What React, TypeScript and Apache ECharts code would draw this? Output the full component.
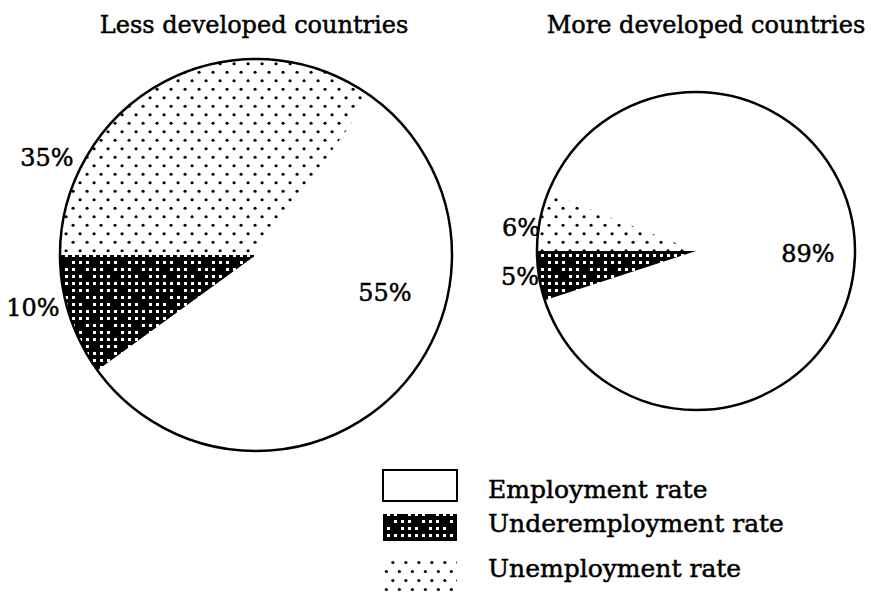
import React, { useEffect, useRef } from "react";
import * as echarts from "echarts";

// ---- data ----
const categories = ["Unemployment rate", "Employment rate", "Underemployment rate"];
const lessDeveloped = [35, 55, 10];
const moreDeveloped = [6, 89, 5];
const pieTitles = ["Less developed countries", "More developed countries"];
const legendItems = ["Employment rate", "Underemployment rate", "Unemployment rate"];

const FONT = "DejaVu Serif";

function makeDots(w: number, h: number): HTMLCanvasElement {
  const c = document.createElement("canvas");
  c.width = w;
  c.height = h;
  const ctx = c.getContext("2d")!;
  ctx.fillStyle = "#fff";
  ctx.fillRect(0, 0, w, h);
  ctx.fillStyle = "#000";
  const pts = [
    [w * 0.22, h * 0.25],
    [w * 0.72, h * 0.75],
  ];
  for (const [x, y] of pts) {
    ctx.beginPath();
    ctx.arc(x, y, 1.6, 0, Math.PI * 2);
    ctx.fill();
  }
  return c;
}

function makeHatch(): HTMLCanvasElement {
  const cell = 7;
  const mask = [
    "1111",
    "1011",
    "1110",
    "0111",
  ];
  const n = mask.length;
  const c = document.createElement("canvas");
  c.width = cell * n;
  c.height = cell * n;
  const ctx = c.getContext("2d")!;
  ctx.fillStyle = "#000";
  ctx.fillRect(0, 0, c.width, c.height);
  ctx.fillStyle = "#fff";
  for (let j = 0; j < n; j++) {
    for (let i = 0; i < n; i++) {
      if (mask[j][i] === "1") ctx.fillRect(i * cell + 2, j * cell + 2, 3, 3);
    }
  }
  return c;
}

export default function App() {
  const ref = useRef<HTMLDivElement>(null);

  useEffect(() => {
    if (!ref.current) return;
    const chart = echarts.init(ref.current, undefined, { renderer: "svg" });

    const dots = makeDots(14, 17);
    const hatch = makeHatch();
    const dotsFill = { image: dots, repeat: "repeat", imageWidth: dots.width, imageHeight: dots.height } as any;
    const hatchFill = { image: hatch, repeat: "repeat", imageWidth: hatch.width, imageHeight: hatch.height } as any;
    const fills: Record<string, any> = {
      "Unemployment rate": dotsFill,
      "Employment rate": "#ffffff",
      "Underemployment rate": hatchFill,
    };

    const pies = [
      { values: lessDeveloped, center: [256, 255], r: 196 },
      { values: moreDeveloped, center: [696, 251], r: 159 },
    ];

    const series: any[] = [];
    pies.forEach((p, idx) => {
      series.push({
        type: "pie",
        name: pieTitles[idx],
        center: p.center,
        radius: p.r,
        startAngle: 180,
        clockwise: true,
        silent: true,
        label: { show: false },
        labelLine: { show: false },
        itemStyle: { borderWidth: 0 },
        data: categories.map((c, i) => ({
          name: c,
          value: p.values[i],
          itemStyle: { color: fills[c] },
        })),
      });
      series.push({
        type: "pie",
        center: p.center,
        radius: p.r,
        silent: true,
        z: 5,
        label: { show: false },
        labelLine: { show: false },
        itemStyle: { color: "rgba(0,0,0,0)", borderColor: "#000", borderWidth: 2.5 },
        data: [{ name: "outline", value: 1 }],
      });
    });

    const textStyle = (text: string, size: number, align: string) => ({
      text,
      font: `${size}px "${FONT}"`,
      fill: "#000",
      stroke: "#000",
      lineWidth: 0.5,
      textAlign: align,
      textVerticalAlign: "middle",
    });

    // percentage labels (text from data values)
    const labelPos: Record<string, [number, number][]> = {
      // [less, more]
      "Unemployment rate": [[47, 158], [521, 228]],
      "Employment rate": [[385, 293], [808, 254]],
      "Underemployment rate": [[33, 308], [520, 277]],
    };
    const elements: any[] = [];
    [lessDeveloped, moreDeveloped].forEach((vals, pi) => {
      categories.forEach((c, i) => {
        const [x, y] = labelPos[c][pi];
        elements.push({
          type: "text",
          x,
          y,
          z: 100,
          silent: true,
          style: textStyle(`${vals[i]}%`, 24, "center"),
        });
      });
    });

    const titlePos: [number, number][] = [[254, 25], [706, 25]];
    pieTitles.forEach((t, i) => {
      elements.push({
        type: "text",
        x: titlePos[i][0],
        y: titlePos[i][1],
        z: 100,
        silent: true,
        style: textStyle(t, 24, "center"),
      });
    });

    // legend
    const legendBoxes = [
      { y: 470, h: 31 },
      { y: 514, h: 27 },
      { y: 559, h: 35 },
    ];
    const legendTextY = [489, 523, 568];
    const legendFill: Record<string, any> = {
      "Employment rate": "#ffffff",
      "Underemployment rate": hatchFill,
      "Unemployment rate": { image: makeDots(13, 18), repeat: "repeat", imageWidth: 13, imageHeight: 18 },
    };
    legendItems.forEach((name, i) => {
      const b = legendBoxes[i];
      elements.push({
        type: "rect",
        z: 100,
        silent: true,
        shape: { x: 383, y: b.y, width: 74, height: b.h },
        style: {
          fill: legendFill[name],
          stroke: name === "Employment rate" ? "#000" : "none",
          lineWidth: 2,
        },
      });
      elements.push({
        type: "text",
        x: 488,
        y: legendTextY[i],
        z: 100,
        silent: true,
        style: textStyle(name, 25, "left"),
      });
    });

    chart.setOption({
      animation: false,
      backgroundColor: "#ffffff",
      series,
      graphic: { elements },
    });

    return () => chart.dispose();
  }, []);

  return (
    <div
      ref={ref}
      style={{ position: "fixed", left: 0, top: 0, width: 871, height: 600 }}
    />
  );
}
